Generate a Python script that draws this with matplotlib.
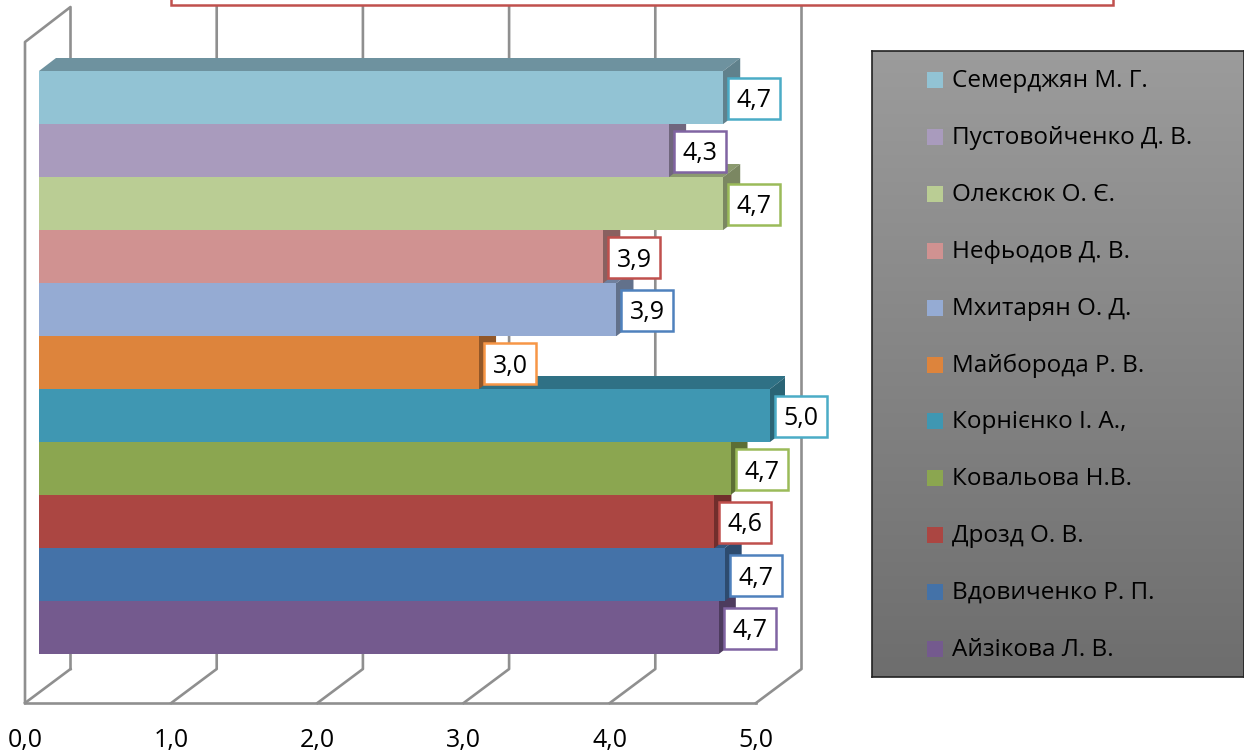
import matplotlib
matplotlib.use('Agg')
import matplotlib.pyplot as plt
from matplotlib.patches import Polygon, Rectangle
from matplotlib.colors import to_rgb
import numpy as np

plt.rcParams['font.family'] = ['Open Sans', 'DejaVu Sans']

# bottom to top, same as the category axis
names = ['Айзікова Л. В.', 'Вдовиченко Р. П.', 'Дрозд О. В.', 'Ковальова Н.В.',
         'Корнієнко І. А.,', 'Майборода Р. В.', 'Мхитарян О. Д.', 'Нефьодов Д. В.',
         'Олексюк О. Є.', 'Пустовойченко Д. В.', 'Семерджян М. Г.']
values = [4.65, 4.69, 4.62, 4.73, 5.0, 3.01, 3.95, 3.86, 4.68, 4.31, 4.68]
labels = ['4,7', '4,7', '4,6', '4,7', '5,0', '3,0', '3,9', '3,9', '4,7', '4,3', '4,7']
colors = ['#745a8e', '#4472a8', '#ab4642', '#8ba650', '#3f97b2', '#dd843c',
          '#95abd3', '#d09291', '#bacd94', '#a99bbd', '#92c3d4']
edges = ['#8064a2', '#4f81bd', '#c0504d', '#9bbb59', '#4bacc6', '#f79646',
         '#4f81bd', '#c0504d', '#9bbb59', '#8064a2', '#4bacc6']
ticks = [0, 1, 2, 3, 4, 5]
tick_labels = ['0,0', '1,0', '2,0', '3,0', '4,0', '5,0']

W, H = 1244, 753
fig = plt.figure(figsize=(W / 100, H / 100), dpi=100)

# axes box runs along the front floor edge, 146.2 px for one unit
PX = 146.2
RH = 53.0
ax = fig.add_axes([25 / W, (H - 703) / H, 5.2 * PX / W, 696 / H])
ax.set_xlim(0, 5.2)
y_bot = -(703 - 627.5) / RH
ax.set_ylim(y_bot, y_bot + 696 / RH)
for s in ax.spines.values():
    s.set_visible(False)
ax.patch.set_alpha(0)

x0 = 14 / PX       # bars stand a bit behind the front edge
wall_dx = 45.5 / PX  # depth of the walls
floor_y = y_bot
back_y = y_bot + 34 / RH
top_y = y_bot + 696 / RH
grid = '#8f8f8f'

ax.plot([0, 0, wall_dx, wall_dx], [floor_y, y_bot + 661 / RH, top_y, back_y],
        color=grid, lw=1.9, clip_on=False, zorder=1)
ax.plot([0, wall_dx], [floor_y, back_y], color=grid, lw=1.9, clip_on=False, zorder=1)
ax.plot([0, 5], [floor_y, floor_y], color=grid, lw=1.9, clip_on=False, zorder=1)
for t in ticks[1:]:
    ax.plot([t, t + wall_dx, t + wall_dx], [floor_y, back_y, top_y],
            color=grid, lw=1.9, clip_on=False, zorder=1)

ax.set_xticks(ticks)
ax.set_xticklabels(tick_labels, fontsize=18)
ax.tick_params(axis='x', length=0, pad=18, colors='black')
ax.set_yticks([])

dx = 17 / PX
dy = 13 / RH
half = 0.5


def shade(c, k):
    return tuple(v * k for v in to_rgb(c))


# bottom bar first, each upper bar hides the top face of the one below
for i in range(len(values)):
    r = x0 + values[i]
    ax.add_patch(Polygon([(x0, i + half), (x0 + dx, i + half + dy), (r + dx, i + half + dy), (r, i + half)],
                         fc=shade(colors[i], 0.75), ec='none', zorder=2))
    # side face starts a little under the front so no gap shows
    ax.add_patch(Polygon([(r - 2 / PX, i - half), (r, i - half), (r + dx, i - half + dy), (r + dx, i + half + dy),
                          (r, i + half), (r - 2 / PX, i + half)],
                         fc=shade(colors[i], 0.66), ec='none', zorder=2))
    ax.barh(i, values[i], left=x0, height=1.0, color=colors[i], zorder=2)

# value labels in white frames
for i in range(len(values)):
    r = x0 + values[i]
    ax.add_patch(Rectangle((r + 5 / PX, i - 21.5 / RH), 52 / PX, 41 / RH, fc='white', ec=edges[i],
                           lw=1.8, zorder=5, clip_on=False))
    ax.text(r + 31 / PX, i - 3.5 / RH, labels[i], fontsize=18, ha='center', va='center', zorder=6, clip_on=False)

# title frame, only its lower edge is left in the picture
fig.add_artist(Rectangle((171 / W, (H - 5) / H), 942 / W, 30 / H, transform=fig.transFigure,
                         fc='white', ec='#c0504d', lw=1.8, zorder=5))

# legend panel with grey gradient
lax = fig.add_axes([872 / W, (H - 677) / H, 372 / W, 626 / H])
grad = np.linspace(0, 1, 256).reshape(-1, 1, 1)
top_c, bot_c = np.array([0.61, 0.61, 0.61]), np.array([0.43, 0.43, 0.43])
lax.imshow(top_c + grad * (bot_c - top_c), extent=(872, 1244, 677, 51), aspect='auto')
lax.set_xlim(872, 1244)
lax.set_ylim(677, 51)
lax.set_xticks([])
lax.set_yticks([])
for s in lax.spines.values():
    s.set_color('#222222')
    s.set_linewidth(1.2)
for i in range(len(names)):
    y = 649 - 56.9 * i
    lax.add_patch(Rectangle((927, y - 8), 16, 16, fc=colors[i], ec='none'))
    lax.text(952, y + 1, names[i], fontsize=17.5, va='center', ha='left', color='black')

fig.savefig('out.png', dpi=100)
